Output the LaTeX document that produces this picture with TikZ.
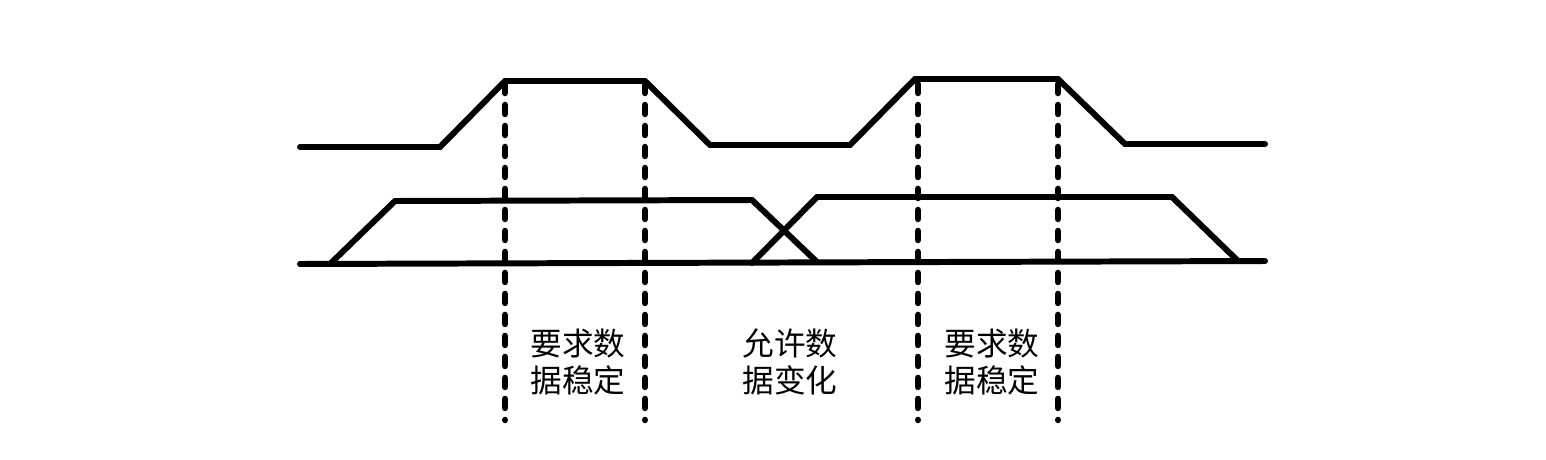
\documentclass[tikz,border=0pt]{standalone}
\usepackage{fontspec}
\newfontfamily\cjk{Noto Sans CJK SC}
\tikzset{
    wave/.style={line width=3.4pt,line cap=round,line join=miter},
    guide/.style={line width=3.7pt,line cap=round,dash pattern=on 0.18cm off 0.24cm},
    note/.style={font=\cjk\fontsize{18}{21.5}\selectfont,align=center}
}
\begin{document}
\begin{tikzpicture}[x=0.02cm,y=-0.02cm]
        \useasboundingbox (0,0) rectangle (1546,460);
        % clock line
        \draw[wave](300,147)--(440,147)--(505,81)--(645,81)--(710,145)--(850,145)--(915,79)--(1058,79)--(1125,144)--(1265,144);
        % data line
        \draw[wave](300,264)--(1265,261);
        \draw[wave](330,264)--(395,201)--(752,200)--(817,262);
        \draw[wave](752,263)--(817,197)--(1172,197)--(1238,261);
        % guides
        \foreach \gx in {505,645,918,1058}
            \draw[guide](\gx,84)--(\gx,420);
        \node[note] (stable1) at (578,362) {要求数\\据稳定};
        \node[note] (change) at (790,362) {允许数\\据变化};
        \node[note] (stable2) at (992,362) {要求数\\据稳定};
    \end{tikzpicture}
\end{document}
